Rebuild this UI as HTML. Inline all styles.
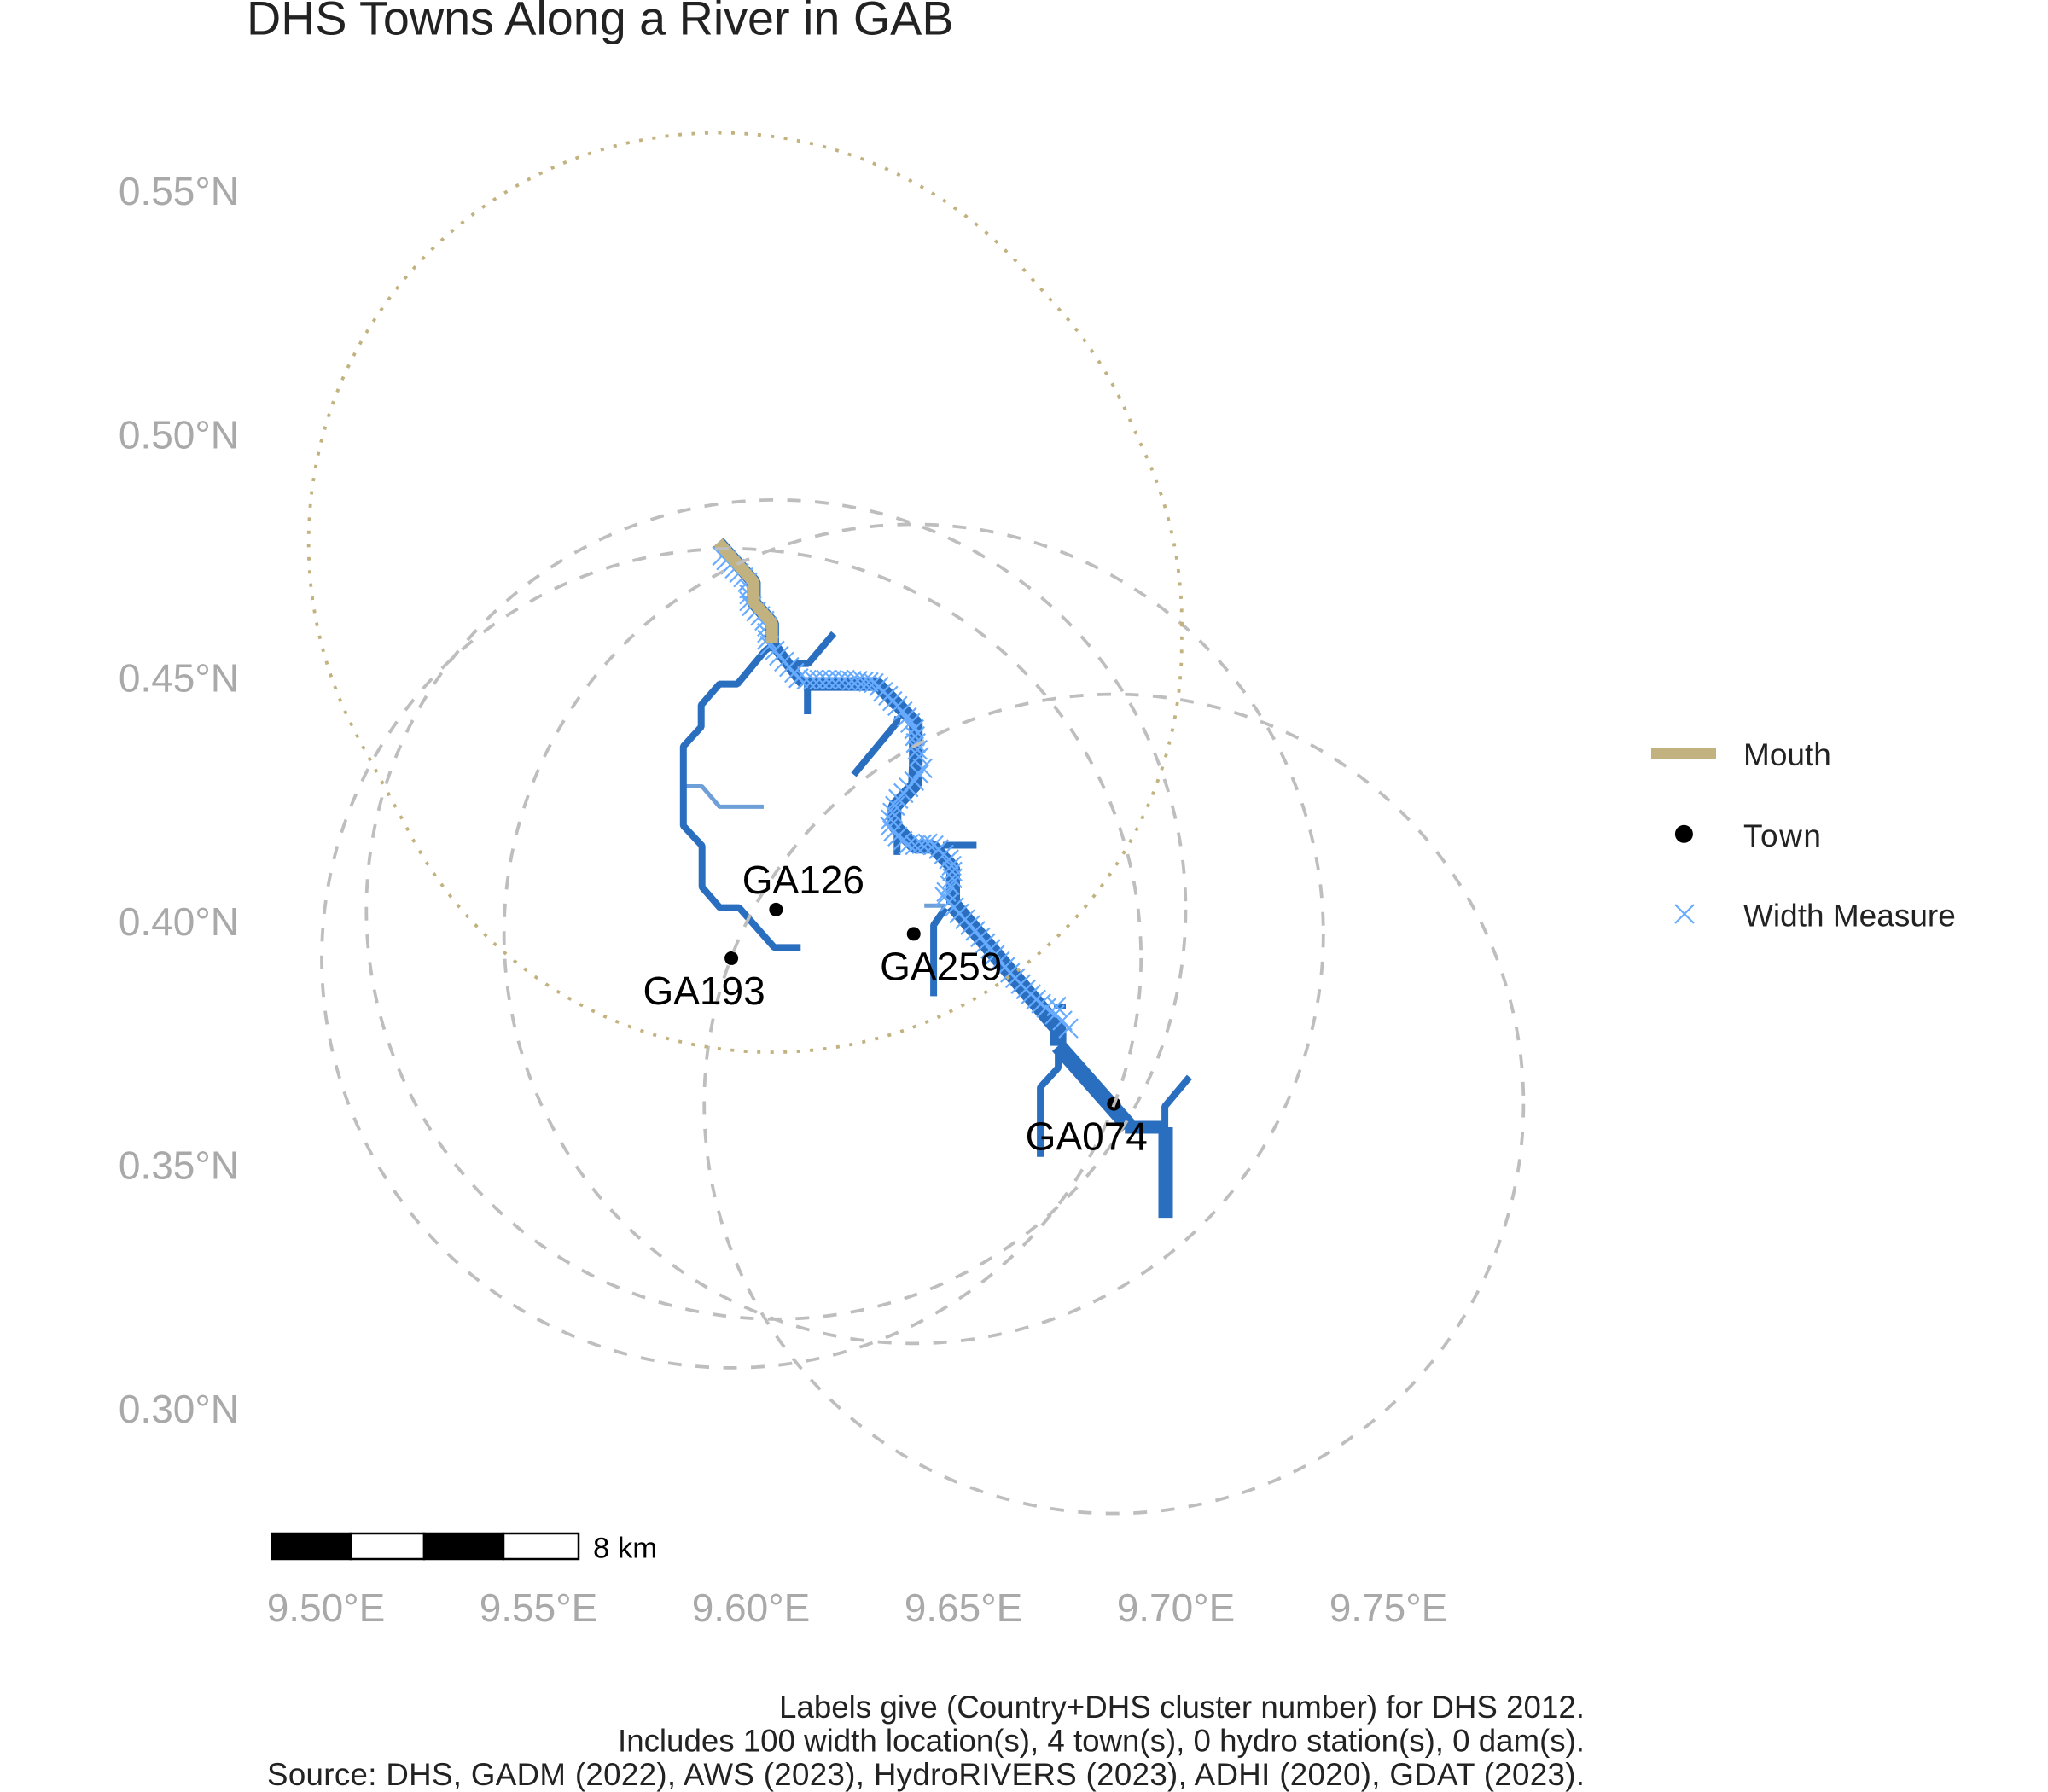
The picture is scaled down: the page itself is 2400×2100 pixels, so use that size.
<!DOCTYPE html>
<html lang="en">
<head>
<meta charset="utf-8">
<title>DHS Towns Along a River in GAB</title>
<style>
html,body{margin:0;padding:0;background:#fff;}
svg{display:block;font-family:"Liberation Sans",sans-serif;}
</style>
</head>
<body>
<svg id="chart" xmlns="http://www.w3.org/2000/svg" width="2400" height="2100" viewBox="0 0 2400 2100">
  <rect x="0" y="0" width="2400" height="2100" fill="#ffffff"/>
  <text x="289" y="40.7" font-size="55.7" fill="#222222">DHS Towns Along a River in GAB</text>
  <g id="rivers"></g>
  <g id="widths"></g>
  <g id="mouth"></g>
  <g id="towns"></g>
  <g id="buffers"></g>
  <g id="townLabels"></g>
  <g id="xAxis"></g>
  <g id="yAxis"></g>

  <g>
    <rect x="319" y="1797" width="92" height="30" fill="#000" stroke="#000" stroke-width="2.5"/>
    <rect x="411" y="1797" width="86" height="30" fill="#fff" stroke="#000" stroke-width="2.5"/>
    <rect x="497" y="1797" width="93" height="30" fill="#000" stroke="#000" stroke-width="2.5"/>
    <rect x="590" y="1797" width="88" height="30" fill="#fff" stroke="#000" stroke-width="2.5"/>
    <text x="695" y="1825.7" font-size="34.7" fill="#000">8 km</text>
  </g>

  <g>
    <g>
      <rect x="1935" y="876" width="76" height="13" fill="#C2B280"/>
      <text x="2043" y="897" font-size="37" fill="#222222">Mouth</text>
    </g>
    <g>
      <circle cx="1973.4" cy="977.3" r="10.5" fill="#000"/>
      <text x="2043" y="992" font-size="37" fill="#222222" textLength="91" lengthAdjust="spacing">Town</text>
    </g>
    <g>
      <path d="M1963,1060L1985,1082M1985,1060L1963,1082" stroke="#66ABFF" stroke-width="2.2" fill="none"/>
      <text x="2043" y="1085.7" font-size="37" fill="#222222">Width Measure</text>
    </g>
  </g>

  <g font-size="36.7" fill="#222222" text-anchor="end">
    <text x="1857" y="2013" textLength="944" lengthAdjust="spacing">Labels give (Country+DHS cluster number) for DHS 2012.</text>
    <text x="1857" y="2052.5" textLength="1133" lengthAdjust="spacing">Includes 100 width location(s), 4 town(s), 0 hydro station(s), 0 dam(s).</text>
    <text x="1857" y="2092" textLength="1544" lengthAdjust="spacing">Source: DHS, GADM (2022), AWS (2023), HydroRIVERS (2023), ADHI (2020), GDAT (2023).</text>
  </g>
</svg>

<script>
// ---- axis ticks ----
var xTickValues = [9.50, 9.55, 9.60, 9.65, 9.70, 9.75];
var xTickLabels = ["9.50°E", "9.55°E", "9.60°E", "9.65°E", "9.70°E", "9.75°E"];
var yTickValues = [0.55, 0.50, 0.45, 0.40, 0.35, 0.30];
var yTickLabels = ["0.55°N", "0.50°N", "0.45°N", "0.40°N", "0.35°N", "0.30°N"];

// ---- river reaches, [longitude, latitude] ----
var westLoop = [[9.6050,.4566],[9.6034,.4556],[9.5968,.4487],[9.5926,.4487],[9.5883,.4444],[9.5883,.4399],[9.5841,.4359],[9.5841,.4196],[9.5885,.4155],[9.5885,.4070],[9.5927,.4028],[9.5972,.4028],[9.6055,.3946],[9.6117,.3946]];
var mouthReach = [[9.5923,.4778],[9.6007,.4696],[9.6007,.4654],[9.6050,.4612],[9.6050,.4572]];
var stemUpper = [[9.6050,.4572],[9.6115,.4496],[9.6125,.4487]];
var stemMiddle = [[9.6125,.4487],[9.6297,.4487],[9.6388,.4407],[9.6388,.4323],[9.6386,.4280],[9.6338,.4235],[9.6338,.4196],[9.6386,.4153],[9.6428,.4153],[9.6476,.4110],[9.6476,.4034]];
var stemDiagonal = [[9.6476,.4034],[9.6723,.3779],[9.6723,.3744]];
var stemLower = [[9.6723,.3744],[9.6889,.3580]];
var stemLowerEast = [[9.6880,.3577],[9.6976,.3577]];
var stemOutlet = [[9.6976,.3577],[9.6976,.3391]];
var branchNearMouth = [[9.6100,.4529],[9.6135,.4529],[9.6195,.4591]];
var branchStubNorth = [[9.6133,.4487],[9.6133,.4425]];
var branchInner = [[9.6346,.4420],[9.6342,.4406],[9.6242,.4301]];
var branchStubMiddle = [[9.6344,.4181],[9.6344,.4136]];
var branchEast = [[9.6452,.4156],[9.6531,.4156]];
var branchSouth = [[9.6458,.4027],[9.6430,.3992],[9.6430,.3846]];
var branchLowerWest = [[9.6723,.3732],[9.6723,.3699],[9.6681,.3659],[9.6681,.3516]];
var branchLowerEast = [[9.7032,.3680],[9.6974,.3620],[9.6974,.3577]];
var branchNub = [[9.6713,.3825],[9.6741,.3825]];
var paleWest = [[9.5841,.4277],[9.5885,.4277],[9.5926,.4235],[9.6030,.4235]];
var paleMiddle = [[9.6408,.4032],[9.6458,.4032]];

// ---- width measure locations ----
var widthLon = [9.5932,9.5942,9.5952,9.5962,9.5972,9.5982,9.5992,9.5996,9.5996,9.5996,
  9.6002,9.6012,9.6022,9.6032,9.6038,9.6038,9.6038,9.6044,9.6056,9.6066,
  9.6078,9.6090,9.6102,9.6112,9.6131,9.6147,9.6161,9.6177,9.6191,9.6207,
  9.6221,9.6237,9.6251,9.6265,9.6277,9.6289,9.6301,9.6311,9.6323,9.6333,
  9.6345,9.6357,9.6367,9.6375,9.6384,9.6386,9.6388,9.6392,9.6396,9.6404,
  9.6396,9.6384,9.6371,9.6359,9.6347,9.6339,9.6333,9.6329,9.6327,9.6335,
  9.6345,9.6357,9.6371,9.6386,9.6402,9.6416,9.6430,9.6442,9.6454,9.6466,
  9.6472,9.6474,9.6474,9.6468,9.6460,9.6456,9.6466,9.6478,9.6490,9.6504,
  9.6516,9.6528,9.6540,9.6552,9.6564,9.6574,9.6586,9.6598,9.6610,9.6622,
  9.6635,9.6647,9.6659,9.6671,9.6683,9.6695,9.6719,9.6715,9.6733,9.6747];
var widthLat = [.4750,.4741,.4732,.4724,.4715,.4706,.4696,.4683,.4671,.4657,
  .4647,.4636,.4627,.4617,.4605,.4592,.4578,.4566,.4556,.4545,
  .4533,.4522,.4510,.4499,.4496,.4496,.4496,.4496,.4496,.4496,
  .4496,.4494,.4494,.4492,.4491,.4489,.4482,.4471,.4463,.4452,
  .4442,.4431,.4419,.4407,.4394,.4380,.4366,.4352,.4338,.4314,
  .4302,.4288,.4275,.4263,.4251,.4237,.4223,.4209,.4195,.4184,
  .4174,.4165,.4158,.4156,.4158,.4160,.4156,.4148,.4137,.4127,
  .4114,.4102,.4088,.4074,.4060,.4050,.4039,.4029,.4016,.4004,
  .3992,.3980,.3967,.3955,.3943,.3931,.3918,.3906,.3894,.3883,
  .3871,.3860,.3850,.3839,.3831,.3822,.3825,.3808,.3796,.3780];

// ---- towns ----
var townNames = ["GA126", "GA193", "GA259", "GA074"];
var townLon = [9.6059, 9.5954, 9.6383, 9.6854];
var townLat = [.4024, .3924, .3974, .3625];
var townLabelEast = [true, false, true, false];
var townLabelAbove = [true, false, false, false];

// ---- buffer radius, degrees ----
var bufferLon = 0.0964;
var bufferLat = 0.0841;

// ---- axis functions ----
function xPos(lon) { return 382 + (lon - 9.5) * 4980; }
function yPos(lat) { return 223.5 + (0.55 - lat) * 5707; }

var NS = "http://www.w3.org/2000/svg";
function make(tag, parentId) {
  var el = document.createElementNS(NS, tag);
  document.getElementById(parentId).appendChild(el);
  return el;
}
function pathOf(reach) {
  return reach.map(function (p, i) {
    return (i ? "L" : "M") + xPos(p[0]).toFixed(1) + "," + yPos(p[1]).toFixed(1);
  }).join("");
}
function drawReach(parentId, reach, name, color, width) {
  var el = make("path", parentId);
  el.setAttribute("d", pathOf(reach));
  el.setAttribute("fill", "none");
  el.setAttribute("stroke", color);
  el.setAttribute("stroke-width", width);
  el.setAttribute("stroke-linejoin", "bevel");
  el.setAttribute("stroke-linecap", "butt");
  
  
}
// outline of a constant-radius buffer around a reach (hull of circles at its vertices)
function bufferOutline(reach) {
  var rx = bufferLon * 4980, ry = bufferLat * 5707, d = "";
  for (var a = 0; a < 360; a += 2) {
    var ca = Math.cos(a * Math.PI / 180), sa = Math.sin(a * Math.PI / 180), best = null, bestScore = -Infinity;
    reach.forEach(function (p) {
      var score = xPos(p[0]) * ca + yPos(p[1]) * sa;
      if (score > bestScore) { bestScore = score; best = p; }
    });
    d += (a ? "L" : "M") + (xPos(best[0]) + rx * ca).toFixed(1) + "," + (yPos(best[1]) + ry * sa).toFixed(1);
  }
  return d + "Z";
}

var BLUE = "#2A6EBF";
var PALE = "#6F9FD8";
drawReach("rivers", paleWest, "river-reach-pale-west", PALE, 5);
drawReach("rivers", paleMiddle, "river-reach-pale-middle", PALE, 5);
drawReach("rivers", westLoop, "river-reach-west-loop", BLUE, 8);
drawReach("rivers", branchNearMouth, "river-branch-near-mouth", BLUE, 8);
drawReach("rivers", branchStubNorth, "river-branch-stub-north", BLUE, 8);
drawReach("rivers", branchInner, "river-branch-inner", BLUE, 8);
drawReach("rivers", branchStubMiddle, "river-branch-stub-middle", BLUE, 8);
drawReach("rivers", branchEast, "river-branch-east", BLUE, 8);
drawReach("rivers", branchSouth, "river-branch-south", BLUE, 8);
drawReach("rivers", branchLowerWest, "river-branch-lower-west", BLUE, 8);
drawReach("rivers", branchLowerEast, "river-branch-lower-east", BLUE, 8);
drawReach("rivers", branchNub, "river-branch-nub", BLUE, 6);
drawReach("rivers", mouthReach, "river-reach-under-mouth", BLUE, 16);
drawReach("rivers", stemUpper, "river-stem-upper", BLUE, 13);
drawReach("rivers", stemMiddle, "river-stem-middle", BLUE, 16);
drawReach("rivers", stemDiagonal, "river-stem-diagonal", BLUE, 19);
drawReach("rivers", stemLower, "river-stem-lower", BLUE, 19);
drawReach("rivers", stemLowerEast, "river-stem-lower-east", BLUE, 15);
drawReach("rivers", stemOutlet, "river-stem-outlet", BLUE, 17);

widthLon.forEach(function (lon, i) {
  var cx = xPos(lon), cy = yPos(widthLat[i]), h = 11;
  var el = make("path", "widths");
  el.setAttribute("d", "M" + (cx - h) + "," + (cy - h) + "L" + (cx + h) + "," + (cy + h) + "M" + (cx + h) + "," + (cy - h) + "L" + (cx - h) + "," + (cy + h));
  el.setAttribute("stroke", "#66ABFF");
  el.setAttribute("stroke-width", "2.2");
  el.setAttribute("fill", "none");
  
  
});

drawReach("mouth", mouthReach, "river-mouth-segment", "#C2B280", 13.6);

townNames.forEach(function (name, i) {
  var cx = xPos(townLon[i]), cy = yPos(townLat[i]);

  var dot = make("circle", "towns");
  dot.setAttribute("cx", cx);
  dot.setAttribute("cy", cy);
  dot.setAttribute("r", 8);
  dot.setAttribute("fill", "#000");
  
  

  var ring = make("ellipse", "buffers");
  ring.setAttribute("cx", cx);
  ring.setAttribute("cy", cy);
  ring.setAttribute("rx", bufferLon * 4980);
  ring.setAttribute("ry", bufferLat * 5707);
  ring.setAttribute("fill", "none");
  ring.setAttribute("stroke", "#BEBEBE");
  ring.setAttribute("stroke-width", 3.8);
  ring.setAttribute("stroke-dasharray", "16 16.5");
  
  

  var label = make("text", "townLabels");
  label.setAttribute("x", cx + (townLabelEast[i] ? 32 : -32));
  label.setAttribute("y", cy + (townLabelAbove[i] ? -19 : 54));
  label.setAttribute("font-size", 46);
  label.setAttribute("text-anchor", "middle");
  label.setAttribute("fill", "#000");
  label.textContent = name;
  
  
});

var mouthRing = make("path", "buffers");
mouthRing.setAttribute("d", bufferOutline(mouthReach));
mouthRing.setAttribute("fill", "none");
mouthRing.setAttribute("stroke", "#C2B280");
mouthRing.setAttribute("stroke-width", 3.8);
mouthRing.setAttribute("stroke-dasharray", "4 11.5");



xTickValues.forEach(function (v, i) {
  var t = make("text", "xAxis");
  t.setAttribute("x", xPos(v));
  t.setAttribute("y", 1900);
  t.setAttribute("font-size", 46);
  t.setAttribute("text-anchor", "middle");
  t.setAttribute("fill", "#A9A9A9");
  t.textContent = xTickLabels[i];
  
  
});

yTickValues.forEach(function (v, i) {
  var t = make("text", "yAxis");
  t.setAttribute("x", 280);
  t.setAttribute("y", yPos(v) + 16.5);
  t.setAttribute("font-size", 46);
  t.setAttribute("text-anchor", "end");
  t.setAttribute("fill", "#A9A9A9");
  t.textContent = yTickLabels[i];
  
  
});
</script>
</body>
</html>
